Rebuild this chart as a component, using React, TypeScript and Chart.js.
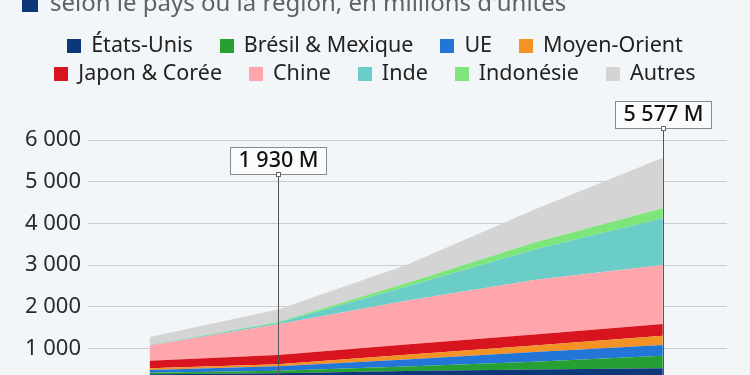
import React, { useEffect, useRef } from 'react';
import { Chart, registerables } from 'chart.js';

Chart.register(...registerables);

// ---- data ----
const years = [2010, 2020, 2030, 2040, 2050];
const seriesNames = ['États-Unis', 'Brésil & Mexique', 'UE', 'Moyen-Orient', 'Japon & Corée', 'Chine', 'Inde', 'Indonésie', 'Autres'];
const etatsUnis = [380, 400, 455, 495, 520];
const bresilMexique = [35, 60, 110, 185, 305];
const ue = [65, 110, 170, 230, 255];
const moyenOrient = [40, 50, 110, 160, 225];
const japonCoree = [185, 220, 250, 265, 280];
const chine = [365, 740, 1050, 1305, 1415];
const inde = [8, 35, 335, 730, 1120];
const indonesie = [5, 20, 85, 170, 240];
const autres = [190, 295, 435, 790, 1217];
const seriesColors = ['#0c3778', '#27a033', '#2475d8', '#f39325', '#d8141f', '#ffa6ad', '#6acdc7', '#7de57a', '#d4d4d4'];
const yTickMin = 0;
const yTickMax = 6000;
const yTickStep = 1000;
const calloutYears = [2020, 2050];
const calloutHeights = [5180, 6290];
const titleText = "selon le pays ou la région, en millions d'unités";
const legendRows = [[0, 1, 2, 3], [4, 5, 6, 7, 8]];

const allSeries = [etatsUnis, bresilMexique, ue, moyenOrient, japonCoree, chine, inde, indonesie, autres];

const FONT = '"Noto Sans", "Open Sans", sans-serif';
const BG = '#f3f6f9';

function fmt(n: number): string {
  return Math.round(n).toString().replace(/\B(?=(\d{3})+(?!\d))/g, ' ');
}

const decorPlugin = {
  id: 'decor',
  afterDatasetsDraw(chart: any) {
    const { ctx, scales, chartArea } = chart;
    const x = scales.x;
    const y = scales.y;
    ctx.save();
    calloutYears.forEach((yr, k) => {
      const idx = years.indexOf(yr);
      const total = allSeries.reduce((s, arr) => s + arr[idx], 0);
      const px0 = Math.round(x.getPixelForValue(yr));
      const by0 = Math.round(y.getPixelForValue(calloutHeights[k]));
      const px = px0 + 0.5;
      // vertical line
      ctx.strokeStyle = '#555';
      ctx.lineWidth = 1;
      ctx.beginPath();
      ctx.moveTo(px, by0);
      ctx.lineTo(px, chartArea.bottom);
      ctx.stroke();
      // box
      const label = fmt(total) + ' M';
      ctx.font = `500 21.5px ${FONT}`;
      const tw = ctx.measureText(label).width;
      const bw = Math.round(tw + 16);
      const bh = 27;
      const bx = px0 - Math.round(bw / 2) + 0.5;
      const bt = by0 - bh + 0.5;
      ctx.fillStyle = 'rgba(255,255,255,0.55)';
      ctx.fillRect(bx, bt, bw, bh);
      ctx.strokeStyle = '#8a8a8a';
      ctx.strokeRect(bx, bt, bw, bh);
      ctx.fillStyle = '#111';
      ctx.textAlign = 'center';
      ctx.textBaseline = 'middle';
      ctx.fillText(label, px0 + 0.5, bt + bh / 2);
      // marker
      ctx.fillStyle = '#ffffff';
      ctx.fillRect(px0 - 2, by0 - 2, 5, 5);
      ctx.strokeStyle = '#666';
      ctx.strokeRect(px0 - 2 + 0.5, by0 - 2 + 0.5, 4, 4);
    });
    ctx.restore();
  },
  afterDraw(chart: any) {
    const { ctx } = chart;
    ctx.save();
    // title (cut at top)
    ctx.fillStyle = '#0c3778';
    ctx.fillRect(22, -4, 16, 16);
    ctx.font = `24px ${FONT}`;
    ctx.fillStyle = '#5f6164';
    ctx.textAlign = 'left';
    ctx.textBaseline = 'alphabetic';
    ctx.fillText(titleText, 50, 11);
    // legend
    const rowY = [46, 74];
    ctx.font = `21.5px ${FONT}`;
    legendRows.forEach((row, r) => {
      const widths = row.map((i) => ctx.measureText(seriesNames[i]).width);
      const total = widths.reduce((a, b) => a + b, 0) + row.length * 24 + (row.length - 1) * 27;
      let cx = chart.width / 2 - total / 2;
      row.forEach((i, j) => {
        ctx.fillStyle = seriesColors[i];
        ctx.fillRect(Math.round(cx), rowY[r] - 7, 14, 14);
        cx += 24;
        ctx.fillStyle = '#222';
        ctx.textAlign = 'left';
        ctx.textBaseline = 'middle';
        ctx.fillText(seriesNames[i], cx, rowY[r]);
        cx += widths[j] + 27;
      });
    });
    ctx.restore();
  },
};

export default function App() {
  const canvasRef = useRef<HTMLCanvasElement | null>(null);

  useEffect(() => {
    document.body.style.margin = '0';
    document.body.style.background = BG;
    const canvas = canvasRef.current;
    if (!canvas) return;
    const datasets = allSeries.map((arr, i) => ({
      label: seriesNames[i],
      data: arr.map((v, k) => ({ x: years[k], y: v })),
      backgroundColor: seriesColors[i],
      borderColor: seriesColors[i],
      borderWidth: 0,
      pointRadius: 0,
      pointHoverRadius: 0,
      tension: 0,
      fill: i === 0 ? 'origin' : '-1',
    }));
    const chart = new Chart(canvas, {
      type: 'line',
      data: { datasets },
      options: {
        animation: false,
        responsive: false,
        devicePixelRatio: 1,
        layout: { padding: { top: 140, left: 0, right: 23, bottom: 50 } },
        plugins: {
          legend: { display: false },
          title: { display: false },
          tooltip: { enabled: false },
        },
        scales: {
          x: {
            type: 'linear',
            min: 2005.2,
            max: 2055,
            display: false,
          },
          y: {
            stacked: true,
            min: yTickMin,
            max: yTickMax,
            border: { display: false },
            grid: { color: '#c9ccd0', lineWidth: 1, drawTicks: false },
            ticks: {
              stepSize: yTickStep,
              padding: 7,
              color: '#2a2a2a',
              font: { family: FONT, size: 22 },
              callback: (v: any) => fmt(Number(v)),
            },
            afterFit: (scale: any) => {
              scale.width = 88;
            },
          },
        },
      },
      plugins: [decorPlugin],
    });
    return () => chart.destroy();
  }, []);

  return (
    <div style={{ position: 'relative', width: 750, height: 440, background: BG, overflow: 'hidden' }}>
      <canvas ref={canvasRef} width={750} height={440} style={{ display: 'block' }} />
    </div>
  );
}
